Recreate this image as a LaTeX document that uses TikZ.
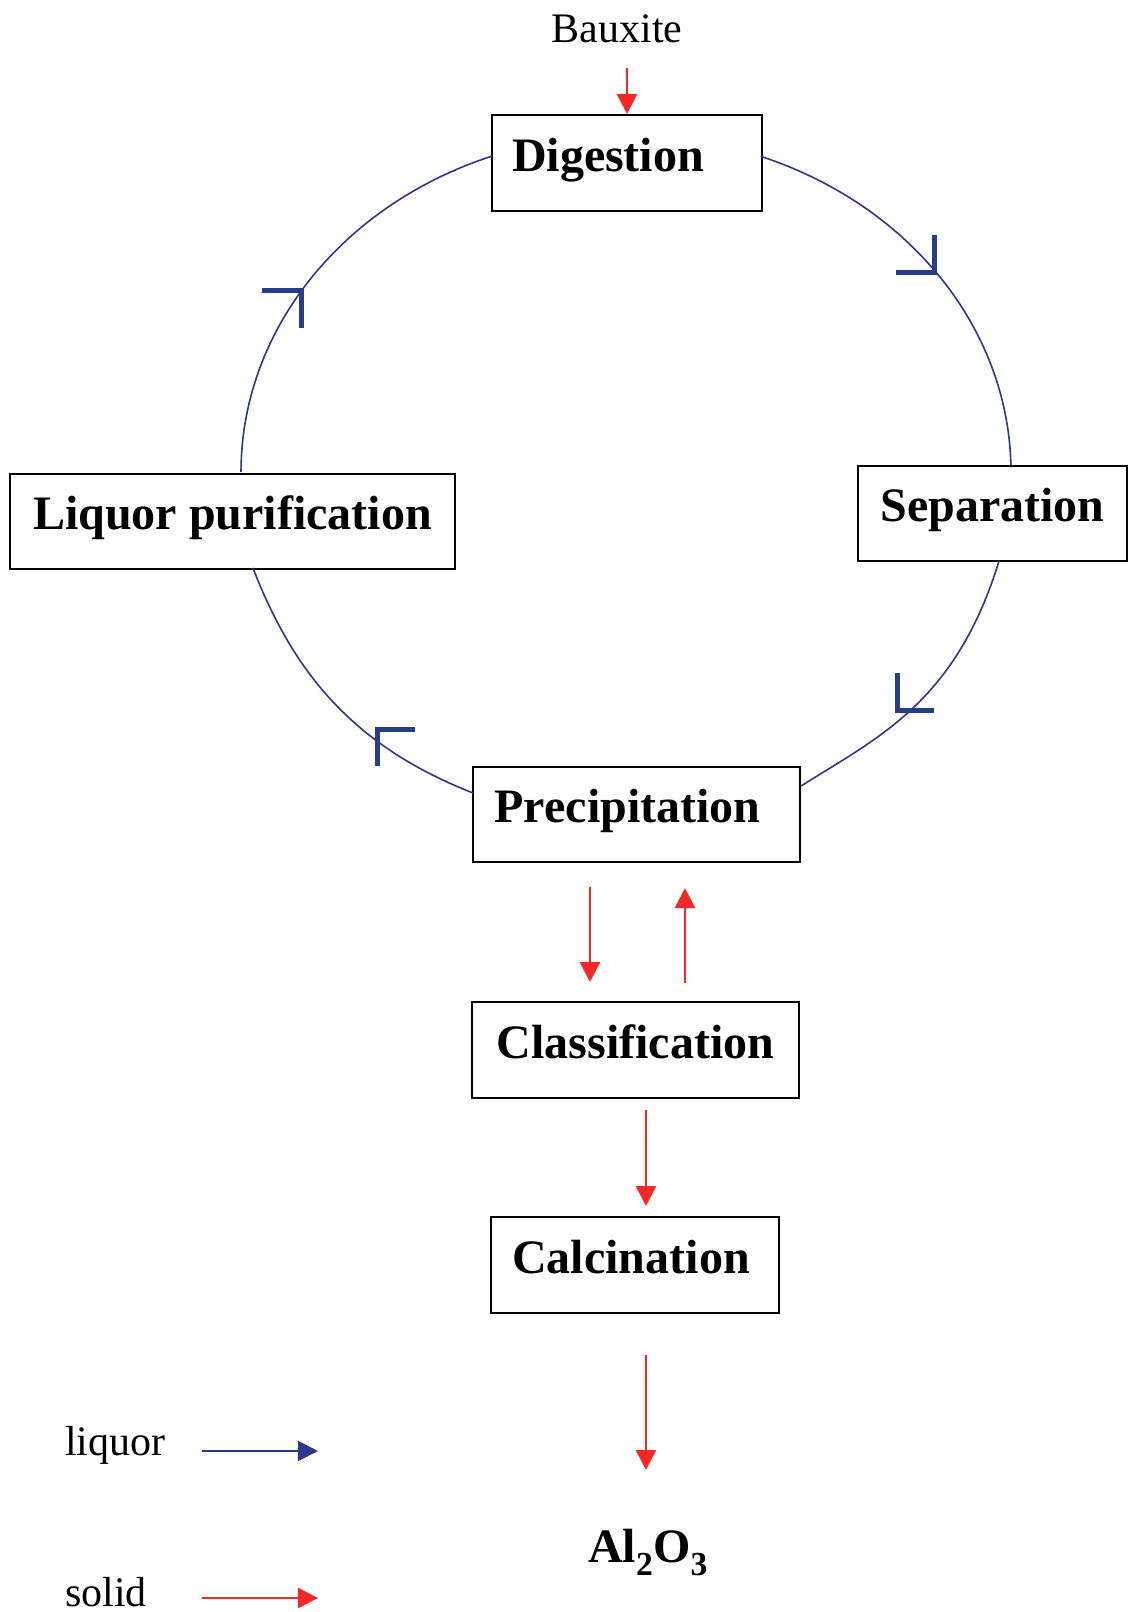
\documentclass[tikz,border=0pt]{standalone}
\usepackage{fontspec}
\setmainfont{Liberation Serif}
\usetikzlibrary{arrows.meta}
\definecolor{cycblue}{RGB}{45,55,140}
\definecolor{markblue}{RGB}{40,60,135}
\definecolor{solidred}{RGB}{245,40,40}
\tikzset{
  stage/.style={draw=black, line width=2pt, inner sep=0pt,
    font=\fontsize{48}{56}\selectfont\bfseries,
    text height=32pt, text depth=16pt, minimum height=96pt},
  plain/.style={font=\fontsize{42}{50}\selectfont, inner sep=0pt},
  liquorline/.style={draw=cycblue, line width=1.6pt},
  liquormark/.style={draw=markblue, line width=5pt, line cap=butt, line join=miter},
  solidarrow/.style={draw=solidred, line width=2.6pt, -{Triangle[length=20pt,width=20pt]}},
  liquorarrow/.style={draw=cycblue, line width=1.8pt, -{Triangle[length=20pt,width=20pt]}},
}
\begin{document}
\begin{tikzpicture}[x=1pt,y=-1pt]
\fill[white] (0,0) rectangle (1130,1612);
\useasboundingbox (0,0) rectangle (1130,1612);

% stages
\node[stage, minimum width=270pt] (dig) at (626.5,163) {Digestion\hspace*{37pt}};
\node[stage, minimum width=269pt, minimum height=95pt] (sep) at (992.5,513) {Separation};
\node[stage, minimum width=445pt, minimum height=95pt] (liq) at (232.5,521.5) {Liquor purification};
\node[stage, minimum width=327pt, minimum height=95pt] (pre) at (636.5,814.5) {Precipitation\hspace*{18pt}};
\node[stage, minimum width=327pt] (cla) at (635.5,1050) {Classification};
\node[stage, minimum width=288pt] (cal) at (635,1265) {Calcination\hspace*{8pt}};

% texts
\node[plain, anchor=base] (baux) at (617,42) {Bauxite};
\node[plain, anchor=base west] (lq) at (65,1455) {liquor};
\node[plain, anchor=base west] (sd) at (65,1606) {solid};
\node[font=\fontsize{48}{56}\selectfont\bfseries, anchor=base, inner sep=0pt] (al) at (648,1562) {Al\textsubscript{2}O\textsubscript{3}};

% liquor cycle
\draw[liquorline] plot[domain=69.5:1.2, samples=60] ({626+385*cos(\x)},{472-337*sin(\x)});
\draw[liquorline] plot[domain=110.4:180, samples=60] ({626+385*cos(\x)},{472-337*sin(\x)});
\draw[liquorline] (999,561) .. controls (955.6,702.1) and (879.1,736.8) .. (801,786);
\draw[liquorline] (253,568) .. controls (296,679.9) and (359.8,748.5) .. (473,793);

% direction marks
\draw[liquormark] (934,235) -- (934,272) -- (896,272);
\draw[liquormark] (262,290) -- (301,290) -- (301,328);
\draw[liquormark] (897,673) -- (897,710) -- (934,710);
\draw[liquormark] (415,729) -- (377,729) -- (377,766);

% solid arrows
\coordinate (bx) at (627,68);
\draw[solidarrow] (bx) -- (bx |- dig.north);
\coordinate (d1) at (590,887);
\coordinate (d2) at (590,982);
\draw[solidarrow] (d1) -- (d2);
\coordinate (u1) at (685,983);
\coordinate (u2) at (685,888);
\draw[solidarrow] (u1) -- (u2);
\coordinate (c1) at (646,1110);
\coordinate (c2) at (646,1206);
\draw[solidarrow] (c1) -- (c2);
\coordinate (a1) at (646,1355);
\coordinate (a2) at (646,1470);
\draw[solidarrow] (a1) -- (a2);

% legend
\coordinate (l1) at (202,1451);
\coordinate (l2) at (318,1451);
\draw[liquorarrow] (l1) -- (l2);
\coordinate (s1) at (202,1598);
\coordinate (s2) at (318,1598);
\draw[solidarrow] (s1) -- (s2);
\end{tikzpicture}
\end{document}
